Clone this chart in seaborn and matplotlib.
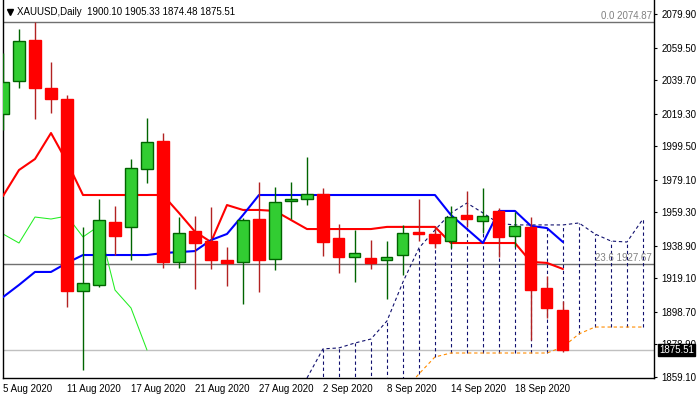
import matplotlib
matplotlib.use("Agg")
import matplotlib.pyplot as plt
import matplotlib.transforms as mtransforms
import numpy as np
import seaborn as sns

# trading days on the chart (weekdays only)
dates = ["2020-08-05", "2020-08-06", "2020-08-07", "2020-08-10", "2020-08-11", "2020-08-12",
         "2020-08-13", "2020-08-14", "2020-08-17", "2020-08-18", "2020-08-19", "2020-08-20",
         "2020-08-21", "2020-08-24", "2020-08-25", "2020-08-26", "2020-08-27", "2020-08-28",
         "2020-08-31", "2020-09-01", "2020-09-02", "2020-09-03", "2020-09-04", "2020-09-07",
         "2020-09-08", "2020-09-09", "2020-09-10", "2020-09-11", "2020-09-14", "2020-09-15",
         "2020-09-16", "2020-09-17", "2020-09-18", "2020-09-21", "2020-09-22", "2020-09-23"]

opens = [2019.1, 2039.2, 2064.1, 2034.9, 2028.2, 1911.4, 1915.1, 1953.4, 1950.4, 1985.6,
         2002.7, 1929.1, 1947.9, 1941.8, 1930.3, 1929.1, 1955.2, 1930.9, 1966.2, 1967.4,
         1970.4, 1943.7, 1932.1, 1931.5, 1930.3, 1933.3, 1947.3, 1946.1, 1941.8, 1957.6,
         1954.0, 1960.1, 1944.9, 1950.4, 1913.2, 1900.10]
highs = [2056.2, 2070.8, 2074.87, 2050.7, 2030.6, 1950.4, 1967.4, 1963.1, 1991.7, 2016.6,
         2007.5, 1956.4, 1957.0, 1962.5, 1938.2, 1955.8, 1977.7, 1974.7, 1977.7, 1992.9,
         1974.1, 1952.2, 1948.6, 1942.4, 1941.8, 1951.6, 1967.4, 1950.9, 1963.1, 1972.2,
         1974.1, 1961.9, 1959.5, 1956.4, 1920.5, 1905.33]
lows = [2009.3, 2034.9, 2016.0, 2019.7, 1901.7, 1863.4, 1913.9, 1933.3, 1930.3, 1977.1,
        1925.4, 1925.4, 1912.6, 1924.8, 1914.5, 1903.5, 1910.8, 1924.2, 1955.2, 1963.7,
        1932.7, 1922.4, 1916.9, 1924.8, 1906.5, 1921.2, 1941.8, 1937.6, 1937.6, 1950.4,
        1946.7, 1932.1, 1938.2, 1881.6, 1895.0, 1874.48]
closes = [2038.5, 2063.5, 2034.9, 2028.2, 1911.4, 1916.3, 1954.6, 1944.9, 1986.2, 2002.0,
          1929.1, 1946.7, 1940.6, 1930.3, 1928.5, 1954.6, 1930.3, 1965.6, 1967.4, 1970.4,
          1941.2, 1932.1, 1934.6, 1928.5, 1932.1, 1946.7, 1946.1, 1940.6, 1956.4, 1955.2,
          1957.0, 1944.3, 1951.0, 1912.0, 1901.1, 1875.51]

# Ichimoku lines
tenkan = [1969.2, 1985.0, 1991.7, 2007.5, 1989.9, 1969.8, 1969.8, 1969.8, 1969.8, 1969.8,
          1969.8, 1958.9, 1947.5, 1941.2, 1963.7, 1960.7, 1960.7, 1960.1, 1954.6, 1949.1,
          1949.1, 1949.1, 1949.1, 1949.1, 1950.4, 1950.4, 1950.4, 1950.4, 1940.6, 1940.6,
          1940.6, 1940.6, 1940.6, 1929.1, 1928.5, 1924.8]
kijun = [1907.7, 1915.1, 1923.0, 1923.0, 1928.5, 1933.3, 1933.3, 1933.3, 1933.3, 1933.3,
         1934.5, 1935.1, 1935.7, 1942.4, 1946.1, 1957.6, 1969.8, 1969.8, 1969.8, 1969.8,
         1969.8, 1969.8, 1969.8, 1969.8, 1969.8, 1969.8, 1969.8, 1969.8, 1957.6, 1949.1,
         1940.6, 1960.1, 1960.1, 1951.0, 1949.7, 1941.2]
chikou = [1946.1, 1940.6, 1956.4, 1955.2, 1957.0, 1944.3, 1951.0, 1912.0, 1901.1, 1875.51]

# cloud, starting at bar 19 and running 5 bars past the last candle
cloud_start = 19
span_a = [1858.5, 1876.2, 1876.8, 1879.8, 1882.2, 1893.2, 1916.9, 1937.6, 1948.5, 1958.9,
          1964.9, 1958.9, 1952.5, 1951.6, 1951.6, 1951.6, 1951.6, 1952.8, 1946.1, 1941.8,
          1941.2, 1955.2]
span_b = [1842.0, 1842.0, 1843.0, 1844.0, 1845.0, 1846.0, 1850.0, 1861.0, 1871.3, 1873.7,
          1873.7, 1873.7, 1873.7, 1873.7, 1873.7, 1873.7, 1877.4, 1885.3, 1889.5, 1889.5,
          1889.5, 1889.5]

tick_dates = ["2020-08-05", "2020-08-11", "2020-08-17", "2020-08-21", "2020-08-27",
              "2020-09-02", "2020-09-08", "2020-09-14", "2020-09-18"]
tick_labels = ["5 Aug 2020", "11 Aug 2020", "17 Aug 2020", "21 Aug 2020", "27 Aug 2020",
               "2 Sep 2020", "8 Sep 2020", "14 Sep 2020", "18 Sep 2020"]
price_ticks = [2079.90, 2059.50, 2039.70, 2019.30, 1999.50, 1979.10, 1959.30, 1938.90,
               1919.10, 1898.70, 1878.90, 1859.10]

fib_labels = ["0.0 2074.87", "23.6 1927.67"]
fib_prices = [2074.87, 1927.67]
bid = 1875.51
title = "XAUUSD,Daily  1900.10 1905.33 1874.48 1875.51"

sns.set_style("white")
plt.rcParams['font.family'] = ['Liberation Sans', 'DejaVu Sans']
plt.rcParams['font.size'] = 7

fig = plt.figure(figsize=(7, 4), dpi=100)
ax = fig.add_axes([3 / 700, 22 / 400, 651 / 700, 378 / 400])

idx = np.arange(len(dates))
cloud_x = np.arange(cloud_start, cloud_start + len(span_a))

# cloud hatch and spans
lo = np.minimum(span_a, span_b)
hi = np.maximum(span_a, span_b)
ax.vlines(cloud_x[1:], lo[1:], hi[1:], colors="#10106e", linewidth=0.8,
          linestyles=(0, (3, 2.5)), zorder=1)
sns.lineplot(x=cloud_x, y=span_a, ax=ax, color="#10106e", linewidth=0.8,
             linestyle=(0, (3, 2.5)), zorder=2)
sns.lineplot(x=cloud_x, y=span_b, ax=ax, color="#FF8C00", linewidth=0.8,
             linestyle=(0, (3, 2.5)), zorder=2)

# other lines
sns.lineplot(x=idx[:len(chikou)], y=chikou, ax=ax, color="#22ee22", linewidth=0.75, zorder=2)
sns.lineplot(x=idx, y=tenkan, ax=ax, color="#FF0000", linewidth=1.5, zorder=3)
sns.lineplot(x=idx, y=kijun, ax=ax, color="#0000FF", linewidth=1.5, zorder=3)

# fibo levels and bid line
for lab, p in zip(fib_labels, fib_prices):
    ax.axhline(p, color="#707070", linewidth=1.0, zorder=0.5)
trans = mtransforms.blended_transform_factory(ax.transAxes, ax.transData)
for lab, p in zip(fib_labels, fib_prices):
    ax.text(0.997, p + 1.0, lab, transform=trans, ha="right", va="bottom",
            color="#808080", fontsize=7, zorder=6)
ax.axhline(bid, color="#C0C0C0", linewidth=1.0, zorder=0.5)

# candles
o = np.array(opens)
c = np.array(closes)
up = c >= o
body_lo = np.minimum(o, c)
body_h = np.maximum(np.abs(c - o), 0.6)
wick_col = np.where(up, "#006400", "#B22222")
ax.vlines(idx, lows, highs, colors=wick_col, linewidth=1.0, zorder=4)
ax.bar(idx[up], body_h[up], bottom=body_lo[up], width=0.69, color="#32CD32",
       edgecolor="#006400", linewidth=1.0, zorder=5)
ax.bar(idx[~up], body_h[~up], bottom=body_lo[~up], width=0.69, color="#FF0000",
       edgecolor="#FF0000", linewidth=1.0, zorder=5)

ax.set_xlim(0, 40.69)
ax.set_ylim(1858.5, 2088.4)

ax.set_xticks([dates.index(d) for d in tick_dates])
ax.set_xticklabels(tick_labels, ha="left")
ax.yaxis.tick_right()
ax.set_yticks(price_ticks)
ax.set_yticklabels([f"{v:.2f}" for v in price_ticks])
ax.tick_params(axis="x", length=2.5, width=0.8, pad=2, labelsize=7, direction="out", colors="black")
ax.tick_params(axis="y", length=2.5, width=0.8, pad=3, labelsize=7, direction="out", colors="black")
ax.set_xlabel("")
ax.set_ylabel("")
for s in ["left", "right", "bottom"]:
    ax.spines[s].set_color("black")
    ax.spines[s].set_linewidth(1.0)
ax.spines["top"].set_visible(False)

# title in the top-left corner
ax.plot([0.011], [0.969], marker="v", markersize=4, color="black", transform=ax.transAxes,
        clip_on=False, zorder=7)
ax.text(0.0215, 0.969, title, transform=ax.transAxes, ha="left", va="center",
        color="black", fontsize=7, zorder=7)

# current price box
ax.text(1.0 + 5 / 651, bid, f"{bid:.2f}", transform=trans, ha="left", va="center",
        color="white", fontsize=7, clip_on=False, zorder=10,
        bbox=dict(facecolor="black", edgecolor="black", boxstyle="square,pad=0.15"))

fig.savefig("out.png", dpi=100)
